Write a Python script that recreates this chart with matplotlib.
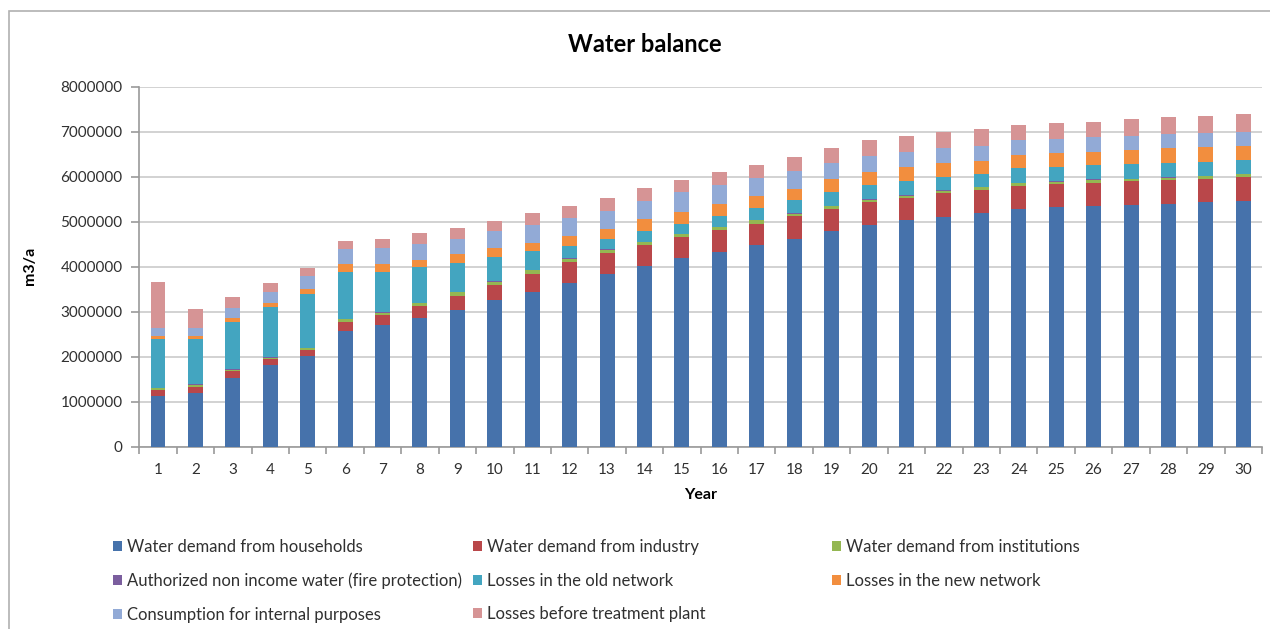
import numpy as np
import matplotlib
matplotlib.use("Agg")
from matplotlib import pyplot as plt
from matplotlib.patches import Rectangle

plt.rcParams['font.family'] = ['Lato', 'DejaVu Sans']

# anos do periodo de projeto
years = list(range(1, 31))

# componentes do balanco hidrico (mil m3/a)
households = [1130, 1200, 1530, 1810, 2020, 2570, 2700, 2850, 3040, 3250,
              3440, 3640, 3840, 4020, 4190, 4330, 4480, 4620, 4790, 4930,
              5040, 5110, 5190, 5280, 5320, 5350, 5380, 5400, 5430, 5450]
industry = [130, 130, 150, 130, 130, 210, 230, 280, 310, 340,
            400, 460, 470, 460, 470, 490, 480, 510, 490, 500,
            490, 520, 510, 510, 520, 520, 520, 530, 520, 540]
institutions = [40, 50, 30, 40, 40, 50, 50, 60, 80, 80,
                80, 80, 70, 60, 60, 60, 70, 50, 60, 60,
                50, 60, 70, 70, 50, 60, 50, 50, 60, 60]
fire_protection = [10] * 30
old_network = [1080, 1000, 1050, 1110, 1190, 1050, 900, 790, 650, 540,
               420, 280, 220, 250, 230, 240, 260, 290, 300, 310,
               310, 300, 290, 320, 320, 310, 320, 320, 310, 310]
new_network = [80, 80, 100, 90, 110, 170, 170, 150, 190, 190,
               170, 220, 230, 250, 260, 260, 270, 250, 290, 300,
               320, 300, 290, 290, 300, 310, 310, 330, 340, 320]
internal_use = [160, 170, 210, 250, 290, 330, 360, 360, 340, 380,
                410, 400, 400, 420, 430, 430, 410, 400, 370, 360,
                340, 340, 330, 340, 310, 320, 320, 320, 310, 310]
before_plant = [1030, 420, 240, 190, 180, 190, 200, 240, 250, 230,
                260, 270, 280, 290, 280, 290, 290, 310, 320, 340,
                340, 350, 370, 340, 360, 340, 370, 360, 380, 390]

series_names = ["Water demand from households",
                "Water demand from industry",
                "Water demand from institutions",
                "Authorized non income water (fire protection)",
                "Losses in the old network",
                "Losses in the new network",
                "Consumption for internal purposes",
                "Losses before treatment plant"]
series_values = [households, industry, institutions, fire_protection,
                 old_network, new_network, internal_use, before_plant]
colors = ['#4672ab', '#b9474a', '#94b752', '#7b5e9e',
          '#43a5c0', '#f28e3e', '#92aad6', '#d69495']

W, H = 1270, 629
fig = plt.figure(figsize=(W / 100, H / 100), dpi=100)
ax = fig.add_axes([139.3 / W, 1 - 446.7 / H, (1262 - 139.3) / W, (446.7 - 86.7) / H])

# barras empilhadas
bottom = np.zeros(len(years))
handles = []
for name, vals, c in zip(series_names, series_values, colors):
    v = np.array(vals) * 1000.0
    b = ax.bar(years, v, width=0.4, bottom=bottom, color=c, label=name, zorder=3)
    handles.append(b)
    bottom += v

ax.set_xlim(0.5, 30.5)
ax.set_ylim(0, 8000000)
ax.set_yticks(np.arange(0, 8000001, 1000000))
ax.set_yticklabels([str(int(t)) for t in np.arange(0, 8000001, 1000000)])
ax.set_xticks(years)
ax.set_xticks(np.arange(0.5, 31, 1), minor=True)
ax.grid(axis='y', color='#cfcfcf', linewidth=1.3, zorder=0)

for s in ['top', 'right']:
    ax.spines[s].set_visible(False)
for s in ['left', 'bottom']:
    ax.spines[s].set_color('#9a9a9a')
    ax.spines[s].set_linewidth(1.2)

ax.tick_params(axis='y', length=6, width=1.2, color='#9a9a9a', pad=6,
               labelsize=11, labelcolor='#303030')
ax.tick_params(axis='x', which='major', length=0, pad=12,
               labelsize=11, labelcolor='#303030')
ax.tick_params(axis='x', which='minor', length=5, width=1.2, color='#9a9a9a')

ax.set_xlabel("Year", fontsize=11.5, fontweight='bold', labelpad=8)
fig.text(30 / W, 1 - 266 / H, "m3/a", rotation=90, fontsize=11.5,
         fontweight='bold', ha='center', va='center')
fig.text(645 / W, 1 - 45 / H, "Water balance", fontsize=17,
         fontweight='bold', ha='center', va='center')

# legenda em tres colunas
cols = [[0, 3, 6], [1, 4, 7], [2, 5]]
col_x = [113, 473, 832]
for idx, x0 in zip(cols, col_x):
    fig.legend([handles[i] for i in idx], [series_names[i] for i in idx],
               loc='upper left', bbox_to_anchor=(x0 / W, 1 - 539 / H),
               frameon=False, fontsize=12, handlelength=0.55, handleheight=0.55,
               handletextpad=0.3, labelspacing=1.05, borderpad=0,
               borderaxespad=0, labelcolor='#303030')

# moldura do grafico
fig.add_artist(Rectangle((9.3 / W, -0.1), 1.5, 1.1 - 10.7 / H,
                         transform=fig.transFigure, fill=False,
                         edgecolor='#b0b0b0', linewidth=1.2))

fig.savefig("out.png", dpi=100)
